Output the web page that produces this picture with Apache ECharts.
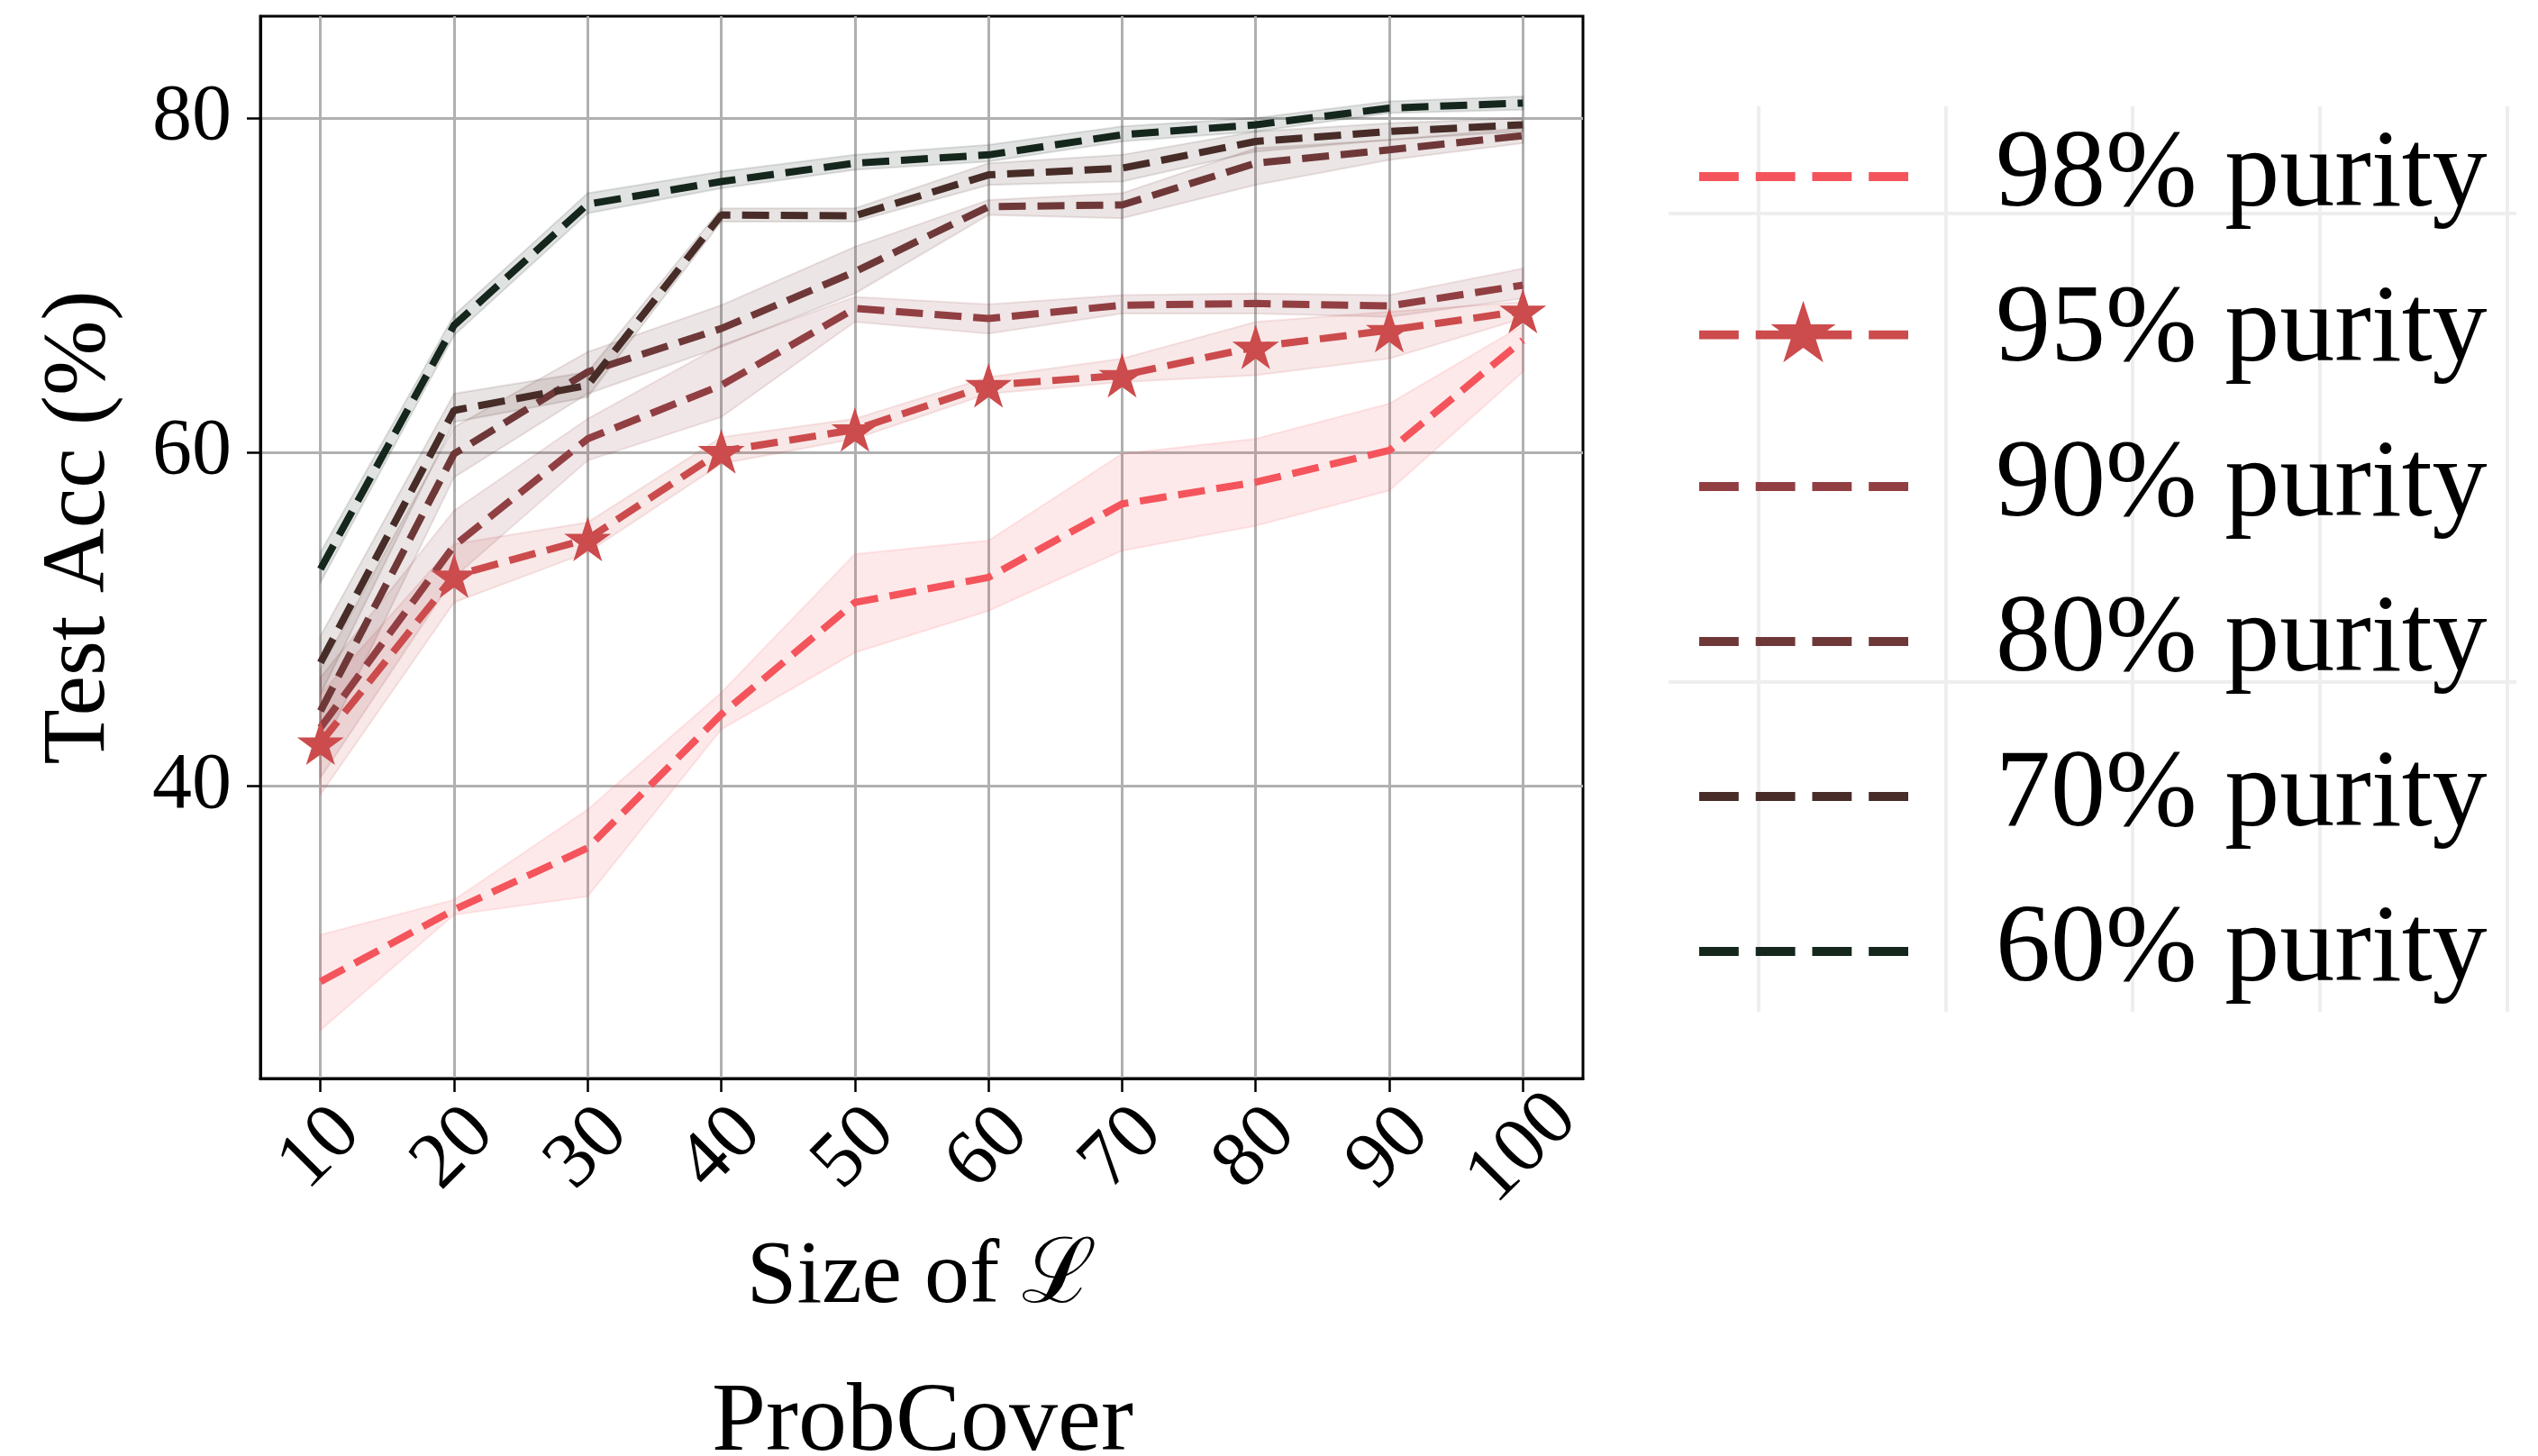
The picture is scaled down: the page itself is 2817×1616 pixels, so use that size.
<!DOCTYPE html>
<html>
<head>
<meta charset="utf-8">
<style>
  html, body { margin: 0; padding: 0; background: #fff; }
  #chart { width: 2817px; height: 1616px; }
</style>
<script src="https://cdn.jsdelivr.net/npm/echarts@6/dist/echarts.min.js"></script>
</head>
<body>
<div id="chart"></div>
<script>
// x positions (size of labelled set)
const sizes = [10, 20, 30, 40, 50, 60, 70, 80, 90, 100];
const yTicks = [40, 60, 80];

// mean test accuracy, one array per purity level
const mean98 = [28.3, 32.6, 36.3, 44.3, 51.0, 52.5, 56.9, 58.2, 60.1, 66.7];
const mean95 = [42.6, 52.6, 54.8, 60.05, 61.35, 64.0, 64.6, 66.3, 67.3, 68.45];
const mean90 = [43.5, 54.4, 60.8, 64.0, 68.6, 68.0, 68.8, 68.9, 68.75, 70.0];
const mean80 = [44.5, 59.9, 64.8, 67.4, 70.8, 74.7, 74.8, 77.3, 78.1, 78.95];
const mean70 = [47.4, 62.5, 64.0, 74.2, 74.15, 76.6, 77.0, 78.6, 79.2, 79.6];
const mean60 = [53.0, 67.6, 74.85, 76.2, 77.3, 77.8, 79.0, 79.6, 80.6, 80.9];

// shaded band (lower / upper) around each mean
const lo98 = [25.4, 32.3, 33.4, 43.4, 48.0, 50.5, 54.1, 55.6, 57.7, 64.8];
const hi98 = [31.1, 33.2, 38.6, 45.6, 53.9, 54.7, 59.9, 60.8, 62.9, 67.6];
const lo95 = [39.5, 51.0, 54.0, 59.3, 60.8, 63.5, 64.2, 64.6, 65.6, 68.0];
const hi95 = [45.5, 54.5, 55.8, 60.9, 62.0, 64.5, 65.6, 67.8, 68.4, 69.0];
const lo90 = [40.5, 52.5, 59.5, 62.1, 67.8, 67.1, 68.3, 68.3, 68.1, 69.2];
const hi90 = [46.5, 56.5, 62.0, 66.4, 69.3, 68.85, 69.4, 69.5, 69.4, 71.0];
const lo80 = [42.0, 58.5, 63.5, 66.3, 69.5, 74.2, 74.0, 76.0, 77.5, 78.5];
const hi80 = [47.0, 61.5, 66.0, 68.8, 72.3, 75.1, 75.5, 78.2, 78.7, 79.4];
const lo70 = [45.5, 61.8, 63.3, 73.8, 73.8, 76.0, 76.2, 78.0, 78.7, 79.2];
const hi70 = [49.0, 63.5, 64.8, 74.6, 74.6, 77.3, 77.8, 79.2, 79.7, 80.0];
const lo60 = [52.2, 67.0, 74.3, 75.8, 76.9, 77.4, 78.6, 79.2, 80.3, 80.5];
const hi60 = [54.0, 68.2, 75.5, 76.8, 77.8, 78.4, 79.5, 80.0, 81.0, 81.3];

const names = ['98% purity', '95% purity', '90% purity', '80% purity', '70% purity', '60% purity'];
const colors = ['#f4545b', '#cc4b4c', '#913f42', '#6f3838', '#472c28', '#15261c'];

const FONT = "'Liberation Serif', 'DejaVu Serif', serif";

// five point star outline, used as marker and legend icon
function starPath(cx, cy, R) {
  const r = R * 0.382;
  let d = '';
  for (let k = 0; k < 10; k++) {
    const a = (-90 + 36 * k) * Math.PI / 180;
    const rad = k % 2 === 0 ? R : r;
    d += (k === 0 ? 'M' : 'L') + (cx + rad * Math.cos(a)).toFixed(2) + ',' + (cy + rad * Math.sin(a)).toFixed(2);
  }
  return d + 'Z';
}
const dashIcon = 'M0,0h44v10h-44z M63,0h44v10h-44z M126,0h44v10h-44z M189,0h44v10h-44z';

function band(idx, lo, hi) {
  const color = colors[idx];
  return {
    type: 'custom',
    name: names[idx] + ' band',
    silent: true,
    z: 1,
    data: sizes.map((s, i) => [s, lo[i], hi[i]]),
    encode: { x: 0, y: [1, 2] },
    renderItem: function (params, api) {
      if (params.dataIndex !== 0) return;
      const upper = sizes.map((s, i) => api.coord([s, hi[i]]));
      const lower = sizes.map((s, i) => api.coord([s, lo[i]])).reverse();
      return {
        type: 'polygon',
        shape: { points: upper.concat(lower) },
        style: { fill: color, stroke: color, lineWidth: 2, opacity: 0.13 }
      };
    }
  };
}

function line(idx, mean, withStar) {
  const color = colors[idx];
  return {
    type: 'line',
    name: names[idx],
    z: 3,
    data: sizes.map((s, i) => [s, mean[i]]),
    symbol: withStar ? 'path://' + starPath(0, 0, 50) : 'none',
    symbolSize: 52,
    symbolKeepAspect: true,
    showSymbol: !!withStar,
    lineStyle: { color: color, width: 8, type: [30, 13] },
    itemStyle: { color: color, borderWidth: 0 }
  };
}

const chart = echarts.init(document.getElementById('chart'));

const faint = { stroke: '#eeeeee', lineWidth: 4 };
const legendGridX = [1952, 2160, 2367, 2575, 2783];
const legendGridY = [237, 757];
const graphics = [];
legendGridX.forEach(x => graphics.push({ type: 'line', z: 0, shape: { x1: x, y1: 118, x2: x, y2: 1123 }, style: faint }));
legendGridY.forEach(y => graphics.push({ type: 'line', z: 0, shape: { x1: 1852, y1: y, x2: 2793, y2: y }, style: faint }));
graphics.push({
  type: 'text', x: 1024, y: 1581, z: 5,
  style: { text: 'ProbCover', fontSize: 108, fontFamily: FONT, fill: '#000', align: 'center', verticalAlign: 'middle', textAlign: 'center', textVerticalAlign: 'middle' }
});

chart.setOption({
  animation: false,
  backgroundColor: '#fff',
  grid: { left: 289, top: 18, width: 1468, height: 1179, show: true, borderColor: '#000', borderWidth: 3 },
  xAxis: {
    type: 'value', min: 5.5, max: 104.5,
    axisLine: { show: true, onZero: false, lineStyle: { color: '#000', width: 3 } },
    axisTick: { show: true, customValues: sizes, length: 15, lineStyle: { color: '#000', width: 2.5 } },
    axisLabel: { customValues: sizes, rotate: 45, fontSize: 88, fontFamily: FONT, color: '#000', margin: 78, align: 'center', verticalAlign: 'middle' },
    splitLine: { show: true, lineStyle: { color: '#b0b0b0', width: 3 } },
    name: 'Size of ℒ', nameLocation: 'middle', nameGap: 172,
    nameTextStyle: { fontSize: 100, fontFamily: FONT, color: '#000', lineHeight: 100 }
  },
  yAxis: {
    type: 'value', min: 22.5, max: 86.1,
    axisLine: { show: true, onZero: false, lineStyle: { color: '#000', width: 3 } },
    axisTick: { show: true, customValues: yTicks, length: 15, lineStyle: { color: '#000', width: 2.5 } },
    axisLabel: { customValues: yTicks, fontSize: 88, fontFamily: FONT, color: '#000', margin: 32 },
    splitLine: { show: true, lineStyle: { color: '#b0b0b0', width: 3 } },
    name: 'Test Acc (%)', nameLocation: 'middle', nameGap: 150, nameRotate: 90,
    nameTextStyle: { fontSize: 100, fontFamily: FONT, color: '#000', lineHeight: 100, padding: [0, 0, 0, 44] }
  },
  legend: {
    orient: 'vertical', left: 1881, top: 130, z: 5,
    itemWidth: 232, itemHeight: 76, itemGap: 50,
    selectedMode: false,
    itemStyle: { borderWidth: 0 },
    textStyle: { fontSize: 122, fontFamily: FONT, color: '#000', lineHeight: 120, padding: [0, 0, 0, 92] },
    data: names.map((n, i) => ({
      name: n,
      icon: 'path://' + dashIcon + (i === 1 ? ' ' + starPath(116, 5, 38) : '')
    }))
  },
  graphic: graphics,
  series: [
    band(0, lo98, hi98), line(0, mean98, false),
    band(1, lo95, hi95), line(1, mean95, true),
    band(2, lo90, hi90), line(2, mean90, false),
    band(3, lo80, hi80), line(3, mean80, false),
    band(4, lo70, hi70), line(4, mean70, false),
    band(5, lo60, hi60), line(5, mean60, false)
  ]
});
</script>
</body>
</html>
